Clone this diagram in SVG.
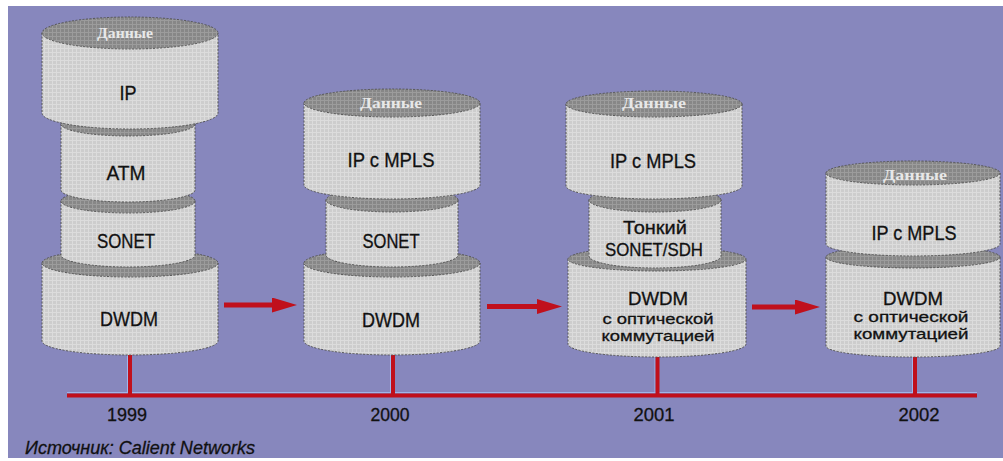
<svg xmlns="http://www.w3.org/2000/svg" width="1003" height="461" viewBox="0 0 1003 461">
  <defs>
    <!-- light dotted-grid fill for cylinder walls -->
    <pattern id="wall" width="4" height="4" patternUnits="userSpaceOnUse">
      <rect width="4" height="4" fill="#CDCDCD"/>
      <path d="M0 0.5H4M0.5 0V4" stroke="#DCDCDC" stroke-width="1"/>
    </pattern>
    <!-- darker dotted fill for cylinder lids -->
    <pattern id="lid" width="4" height="4" patternUnits="userSpaceOnUse">
      <rect width="4" height="4" fill="#878787"/>
      <path d="M0 0.5H4M0.5 0V4" stroke="#9C9C9C" stroke-width="1"/>
    </pattern>
    <marker id="head" viewBox="0 0 25 15" refX="13" refY="7.5" markerWidth="25" markerHeight="15" markerUnits="userSpaceOnUse" orient="auto">
      <path d="M0 0L25 7.5L0 15Z" fill="#C0101C"/>
    </marker>
  </defs>
  <style>
    .wall { fill: url(#wall); stroke: #555; stroke-width: 1; stroke-dasharray: 2 1.5; }
    .lid { fill: url(#lid); stroke: #555; stroke-width: 1; stroke-dasharray: 2 1.5; }
    .lbl { font-family: "Liberation Sans", Arial, sans-serif; font-size: 20px; fill: #111; stroke: #111; stroke-width: 0.3; text-anchor: middle; }
    .lbl3 { font-family: "Liberation Sans", Arial, sans-serif; font-size: 18px; fill: #111; stroke: #111; stroke-width: 0.3; text-anchor: middle; }
    .lbl2 { font-family: "Liberation Sans", Arial, sans-serif; font-size: 15px; fill: #111; stroke: #111; stroke-width: 0.3; text-anchor: middle; }
    .cap { font-family: "Liberation Serif", "Times New Roman", serif; font-weight: bold; font-size: 14px; fill: #E8E8E8; text-anchor: middle; }
    .year { font-family: "Liberation Sans", Arial, sans-serif; font-size: 19px; fill: #111; stroke: #111; stroke-width: 0.3; text-anchor: middle; }
    .src { font-family: "Liberation Sans", Arial, sans-serif; font-size: 19px; font-style: italic; fill: #111; stroke: #111; stroke-width: 0.3; }
    .red { stroke: #C0101C; fill: none; }
    .glow { stroke: #9FB6EA; stroke-width: 1; fill: none; }
  </style>

  <!-- backdrop -->
  <rect width="1003" height="461" fill="#FFFFFF"/>
  <rect x="8" y="6" width="995" height="452" fill="#8787BD"/>

  <!-- timeline with year ticks -->
  <g id="timeline">
    <path class="glow" d="M67 392.5H977"/>
    <path class="glow" d="M127.5 350V393M390.5 350V393M655 350V393M912.5 350V393"/>
    <path class="red" stroke-width="4" d="M67 395.5H977"/>
    <path class="red" stroke-width="4" d="M130 350V395M393 350V395M657.5 350V395M915 350V395"/>
    <text class="year" x="127" y="421" textLength="40" lengthAdjust="spacingAndGlyphs">1999</text>
    <text class="year" x="390" y="421" textLength="39" lengthAdjust="spacingAndGlyphs">2000</text>
    <text class="year" x="654" y="421" textLength="41" lengthAdjust="spacingAndGlyphs">2001</text>
    <text class="year" x="919" y="421" textLength="41" lengthAdjust="spacingAndGlyphs">2002</text>
  </g>

  <!-- 1999 stack -->
  <g id="dwdm-1999">
    <path class="wall" d="M42 263V341A88 14 0 0 0 218 341V263Z"/>
    <ellipse class="lid" cx="130" cy="263" rx="88" ry="14"/>
    <text class="lbl" x="129" y="326" textLength="58" lengthAdjust="spacingAndGlyphs">DWDM</text>
  </g>
  <g id="sonet-1999">
    <path class="wall" d="M61 201V255A67 12 0 0 0 195 255V201Z"/>
    <ellipse class="lid" cx="128" cy="201" rx="67" ry="12"/>
    <text class="lbl" x="126" y="248" textLength="58" lengthAdjust="spacingAndGlyphs">SONET</text>
  </g>
  <g id="atm-1999">
    <path class="wall" d="M61 124V190A67 12 0 0 0 195 190V124Z"/>
    <ellipse class="lid" cx="128" cy="124" rx="67" ry="12"/>
    <text class="lbl" x="126" y="180" textLength="39" lengthAdjust="spacingAndGlyphs">ATM</text>
  </g>
  <g id="ip-1999">
    <path class="wall" d="M42 33V113A88 16 0 0 0 218 113V33Z"/>
    <ellipse class="lid" cx="130" cy="33" rx="88" ry="16"/>
    <text class="cap" x="125" y="38" textLength="56" lengthAdjust="spacingAndGlyphs">Данные</text>
    <text class="lbl" x="128" y="100" textLength="17" lengthAdjust="spacingAndGlyphs">IP</text>
  </g>

  <!-- 2000 stack -->
  <g id="dwdm-2000">
    <path class="wall" d="M304 263V341A88 14 0 0 0 480 341V263Z"/>
    <ellipse class="lid" cx="392" cy="263" rx="88" ry="14"/>
    <text class="lbl" x="391" y="327" textLength="58" lengthAdjust="spacingAndGlyphs">DWDM</text>
  </g>
  <g id="sonet-2000">
    <path class="wall" d="M326 200V255A66 12 0 0 0 458 255V200Z"/>
    <ellipse class="lid" cx="392" cy="200" rx="66" ry="12"/>
    <text class="lbl" x="391" y="248" textLength="57" lengthAdjust="spacingAndGlyphs">SONET</text>
  </g>
  <g id="ipmpls-2000">
    <path class="wall" d="M304 103V185A88 14 0 0 0 480 185V103Z"/>
    <ellipse class="lid" cx="392" cy="103" rx="88" ry="14"/>
    <text class="cap" x="391" y="108" textLength="62" lengthAdjust="spacingAndGlyphs">Данные</text>
    <text class="lbl" x="391" y="167" textLength="87" lengthAdjust="spacingAndGlyphs">IP с MPLS</text>
  </g>

  <!-- 2001 stack -->
  <g id="dwdm-2001">
    <path class="wall" d="M568 259V344A89 13 0 0 0 746 344V259Z"/>
    <ellipse class="lid" cx="657" cy="259" rx="89" ry="12"/>
    <text class="lbl3" x="658" y="305" textLength="60" lengthAdjust="spacingAndGlyphs">DWDM</text>
    <text class="lbl2" x="658" y="324" textLength="111" lengthAdjust="spacingAndGlyphs">с оптической</text>
    <text class="lbl2" x="658" y="341" textLength="113" lengthAdjust="spacingAndGlyphs">коммутацией</text>
  </g>
  <g id="sonetsdh-2001">
    <path class="wall" d="M589 200V256A66 12 0 0 0 721 256V200Z"/>
    <ellipse class="lid" cx="655" cy="200" rx="66" ry="12"/>
    <text class="lbl3" x="655" y="234" textLength="64" lengthAdjust="spacingAndGlyphs">Тонкий</text>
    <text class="lbl3" x="654" y="256" textLength="98" lengthAdjust="spacingAndGlyphs">SONET/SDH</text>
  </g>
  <g id="ipmpls-2001">
    <path class="wall" d="M566 104V186A88 13 0 0 0 742 186V104Z"/>
    <ellipse class="lid" cx="654" cy="104" rx="88" ry="13"/>
    <text class="cap" x="654" y="108" textLength="64" lengthAdjust="spacingAndGlyphs">Данные</text>
    <text class="lbl" x="653" y="168" textLength="86" lengthAdjust="spacingAndGlyphs">IP с MPLS</text>
  </g>

  <!-- 2002 stack -->
  <g id="dwdm-2002">
    <path class="wall" d="M826 257V346A87 11 0 0 0 1000 346V257Z"/>
    <ellipse class="lid" cx="913" cy="257" rx="87" ry="11"/>
    <text class="lbl3" x="913" y="305" textLength="60" lengthAdjust="spacingAndGlyphs">DWDM</text>
    <text class="lbl2" x="911" y="322" textLength="115" lengthAdjust="spacingAndGlyphs">с оптической</text>
    <text class="lbl2" x="911" y="339" textLength="115" lengthAdjust="spacingAndGlyphs">коммутацией</text>
  </g>
  <g id="ipmpls-2002">
    <path class="wall" d="M826 173V244A87 12 0 0 0 1000 244V173Z"/>
    <ellipse class="lid" cx="913" cy="173" rx="87" ry="12"/>
    <text class="cap" x="915" y="180" textLength="64" lengthAdjust="spacingAndGlyphs">Данные</text>
    <text class="lbl" x="914" y="240" textLength="85" lengthAdjust="spacingAndGlyphs">IP с MPLS</text>
  </g>

  <!-- transition arrows between stacks -->
  <g id="connectors">
    <line class="red" stroke-width="5" x1="224" y1="305" x2="285" y2="305" marker-end="url(#head)"/>
    <line class="red" stroke-width="5" x1="487" y1="306.5" x2="550" y2="306.5" marker-end="url(#head)"/>
    <line class="red" stroke-width="5" x1="752" y1="307" x2="808" y2="307" marker-end="url(#head)"/>
  </g>

  <!-- source note -->
  <text class="src" x="25" y="454" textLength="230" lengthAdjust="spacingAndGlyphs">Источник: Calient Networks</text>
</svg>
